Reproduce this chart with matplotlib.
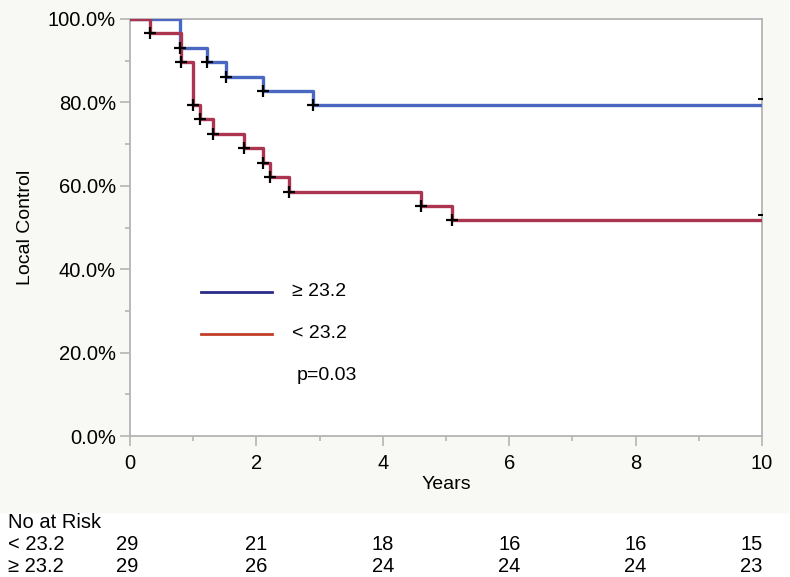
import matplotlib
matplotlib.use("Agg")
import matplotlib.pyplot as plt
from matplotlib.patches import Rectangle

plt.rcParams['font.family'] = ['Liberation Sans', 'DejaVu Sans']

# Kaplan-Meier steps (years, local control %)
hi_times = [0, 0.79, 1.22, 1.52, 2.11, 2.89, 10]
hi_surv = [100, 93.1, 89.7, 86.2, 82.8, 79.3, 79.3]
lo_times = [0, 0.31, 0.80, 0.99, 1.11, 1.32, 1.81, 2.11, 2.22, 2.52, 4.60, 5.10, 10]
lo_surv = [100, 96.6, 89.7, 79.3, 75.9, 72.4, 69.0, 65.5, 62.1, 58.6, 55.2, 51.7, 51.7]

# censor end marks at 10 years
end_mark_x = 10
hi_end_mark = 80.7
lo_end_mark = 53.1

# number at risk
risk_times = [0, 2, 4, 6, 8, 10]
risk_lo = [29, 21, 18, 16, 16, 15]
risk_hi = [29, 26, 24, 24, 24, 23]

blue = '#4a68c2'
red = '#ab3450'

fig = plt.figure(figsize=(7.9, 5.77), dpi=100)
fig.patch.set_facecolor('white')
# off-white panel behind chart part
fig.patches.append(Rectangle((0, 1 - 512 / 577), 788 / 790, 512 / 577,
                             transform=fig.transFigure, color='#f8f8f4', zorder=-10))

ax = fig.add_axes([130 / 790, 1 - 436 / 577, 632 / 790, 417 / 577])
ax.set_facecolor('white')

ax.step(hi_times, hi_surv, where='post', color=blue, lw=2.4, zorder=3)
ax.step(lo_times, lo_surv, where='post', color=red, lw=2.4, zorder=3)
ax.plot(hi_times[1:-1], hi_surv[1:-1], '+', color='black', ms=8, mew=1.6, zorder=4)
ax.plot(lo_times[1:-1], lo_surv[1:-1], '+', color='black', ms=8, mew=1.6, zorder=4)
ax.plot([end_mark_x, end_mark_x], [hi_end_mark, lo_end_mark], '_', color='black',
        ms=6, mew=1.5, zorder=4)

ax.set_xlim(0, 10)
ax.set_ylim(0, 100)
ax.set_xticks([0, 2, 4, 6, 8, 10])
ax.set_xticks([1, 3, 5, 7, 9], minor=True)
ax.set_yticks([0, 20, 40, 60, 80, 100])
ax.set_yticks([10, 30, 50, 70, 90], minor=True)
ax.set_yticklabels(['%.1f%%' % v for v in [0, 20, 40, 60, 80, 100]])

for s in ax.spines.values():
    s.set_color('#b4b4b4')
    s.set_linewidth(1.3)
ax.tick_params(which='major', length=7, width=1.2, color='#b4b4b4', labelsize=14.5)
ax.tick_params(which='minor', length=3.5, width=1.2, color='#b4b4b4')
ax.tick_params(axis='x', pad=6)
ax.tick_params(axis='y', pad=3)

ax.set_xlabel('Years', fontsize=14, labelpad=2)
ax.set_ylabel('Local Control', fontsize=14, labelpad=10)

# legend drawn inside axes
ax.plot([0.1123, 0.2247], [0.345, 0.345], transform=ax.transAxes, color='#2a2a8a', lw=2)
ax.plot([0.1123, 0.2247], [0.2446, 0.2446], transform=ax.transAxes, color='#c23e2a', lw=2)
ax.text(0.256, 0.347, '≥ 23.2', transform=ax.transAxes, fontsize=14, va='center')
ax.text(0.256, 0.247, '< 23.2', transform=ax.transAxes, fontsize=14, va='center')
ax.text(0.263, 0.146, 'p=0.03', transform=ax.transAxes, fontsize=14, va='center')

# number at risk table
fig.text(8 / 790, 1 - 522 / 577, 'No at Risk', fontsize=14.5, va='center')
fig.text(8 / 790, 1 - 544 / 577, '< 23.2', fontsize=14.5, va='center')
fig.text(8 / 790, 1 - 566 / 577, '≥ 23.2', fontsize=14.5, va='center')
nudge = {0: -0.05, 10: -0.17}
for t, a, b in zip(risk_times, risk_lo, risk_hi):
    xt = t + nudge.get(t, 0)
    xf = (130 + xt * 63.2) / 790
    fig.text(xf, 1 - 544 / 577, str(a), fontsize=14.5, va='center', ha='center')
    fig.text(xf, 1 - 566 / 577, str(b), fontsize=14.5, va='center', ha='center')

fig.savefig('out.png', dpi=100)
